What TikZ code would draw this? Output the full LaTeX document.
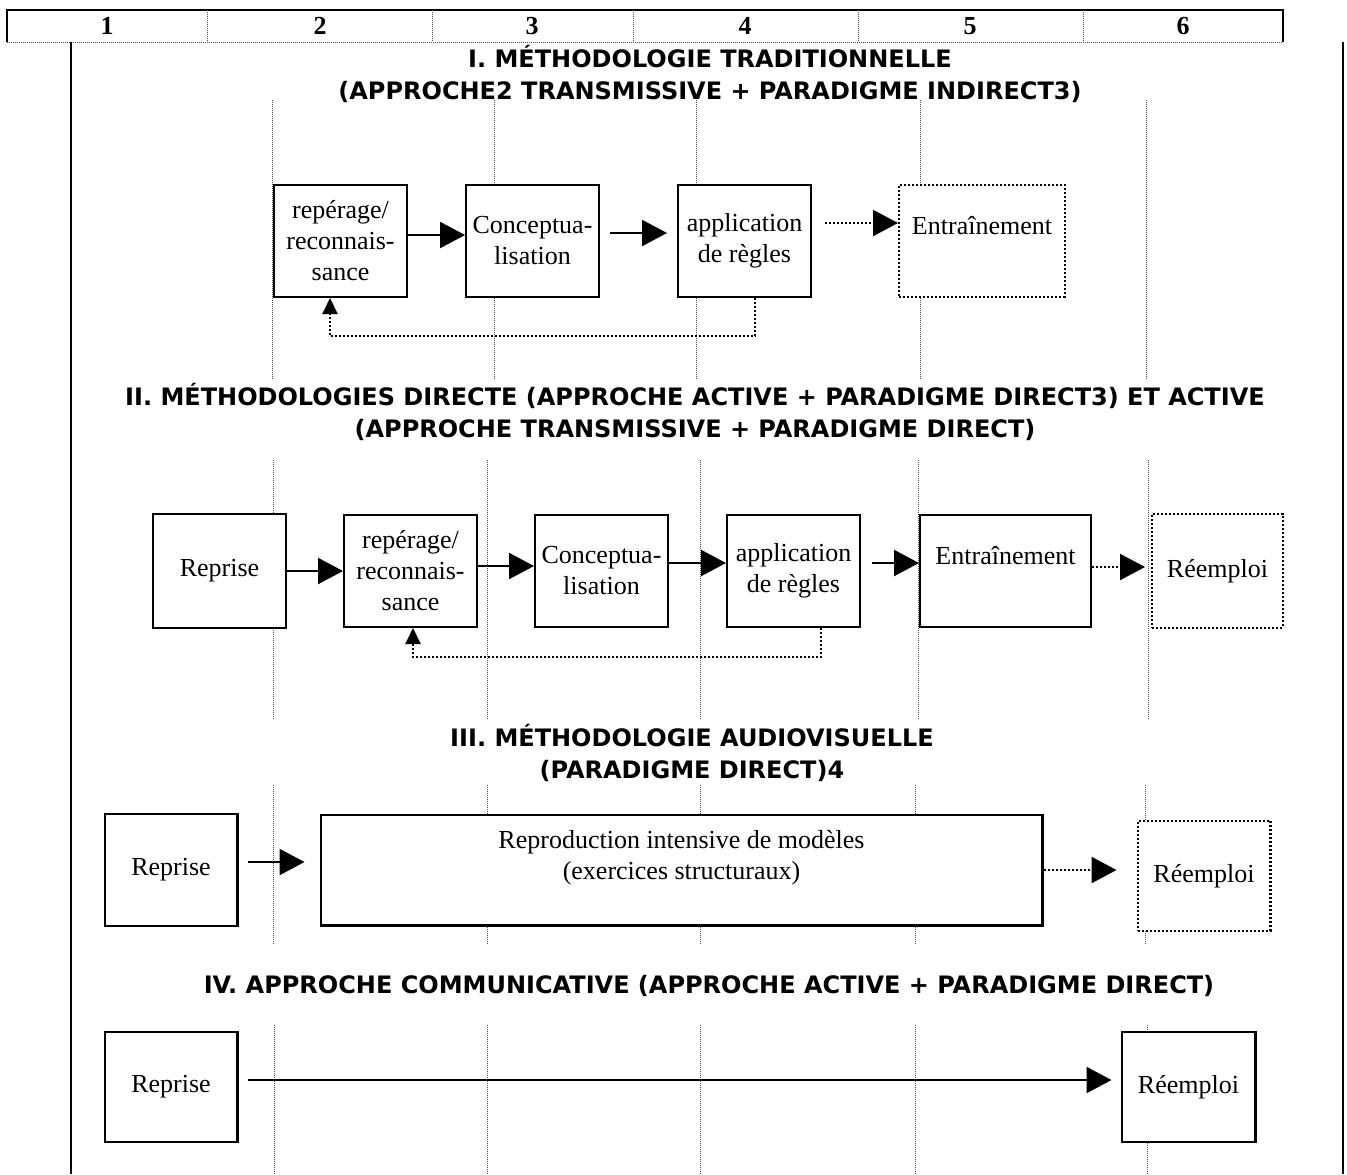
\documentclass[tikz,border=0pt]{standalone}
\usepackage{fontspec}
\setmainfont{Liberation Serif}
\newfontfamily\titrefont{DejaVu Sans}
\usetikzlibrary{arrows.meta,positioning}
\newcommand\etapefont{\fontsize{13}{15.5}\selectfont}
\tikzset{
  etape/.style={rectangle,draw=black,line width=1.2pt,fill=white,
    minimum width=66.3pt,minimum height=55.8pt,align=center,inner sep=1pt,font=\etapefont},
  pointille/.style={dash pattern=on 1pt off 1pt},
  fleche/.style={-{Triangle[length=12.5pt,width=13pt]},line width=1.1pt},
  retour/.style={-{Triangle[length=8pt,width=7.5pt]},line width=1.1pt,pointille},
  repere/.style={draw=black!70,line width=0.4pt,dash pattern=on 0.5pt off 0.5pt},
  titre/.style={font=\titrefont\bfseries\fontsize{12}{16}\selectfont,align=center},
  colonne/.style={font=\bfseries\fontsize{13}{15}\selectfont}
}
\begin{document}
\begin{tikzpicture}[x=0.5pt,y=-0.5pt]
\useasboundingbox (0,0) rectangle (1347,1174);
% en-tete des colonnes
\draw[line width=1.2pt] (7,42) -- (7,10) -- (1283,10) -- (1283,42);
\draw[repere] (7,42) -- (1283,42);
\foreach \x in {207,432,633,858,1083} \draw[repere] (\x,10) -- (\x,42);
\node[colonne] (col1) at (107,26) {1};
\node[colonne] (col2) at (320,26) {2};
\node[colonne] (col3) at (532,26) {3};
\node[colonne] (col4) at (745,26) {4};
\node[colonne] (col5) at (970,26) {5};
\node[colonne] (col6) at (1183,26) {6};
\draw[line width=1.1pt] (71,42) -- (71,1174);
\draw[line width=1.1pt] (1343,42) -- (1343,1174);

% I
\node[titre] (titreI) at (710,74) {I. MÉTHODOLOGIE TRADITIONNELLE\\(APPROCHE2 TRANSMISSIVE + PARADIGME INDIRECT3)};
\foreach \x in {272,494,696,920,1146} \draw[repere] (\x,100) -- (\x,380);
\node[etape] (rep1) at (340.5,241) {repérage/\\reconnais-\\sance};
\node[etape,right=28.5pt of rep1] (conc1) {Conceptua-\\lisation};
\node[etape,right=38.5pt of conc1] (app1) {application\\de règles};
\node[etape,pointille,minimum width=82.8pt,right=43pt of app1] (entr1) {Entraînement\\\mbox{}};
\draw[fleche] ([yshift=3pt]rep1.east) -- ([yshift=3pt]conc1.west);
\draw[fleche,shorten <=5pt,shorten >=5pt] ([yshift=4pt]conc1.east) -- ([yshift=4pt]app1.west);
\draw[fleche,pointille,shorten <=6.5pt] ([yshift=9pt]app1.east) -- ([yshift=9pt]entr1.west);
\draw[retour] ([xshift=5.25pt]app1.south) -- ++(0,38) -| ([xshift=-5.25pt]rep1.south);

% II
\node[titre] (titreII) at (695,412) {II. MÉTHODOLOGIES DIRECTE (APPROCHE ACTIVE + PARADIGME DIRECT3) ET ACTIVE\\(APPROCHE TRANSMISSIVE + PARADIGME DIRECT)};
\foreach \x in {273,487,700,918,1148} \draw[repere] (\x,460) -- (\x,720);
\node[etape,minimum height=56.8pt] (repr2) at (219.5,571) {Reprise};
\node[etape,right=28pt of repr2] (rep2) {repérage/\\reconnais-\\sance};
\node[etape,right=28pt of rep2] (conc2) {Conceptua-\\lisation};
\node[etape,right=28.5pt of conc2] (app2) {application\\de règles};
\node[etape,minimum width=85.3pt,right=29pt of app2] (entr2) {Entraînement\\\mbox{}};
\node[etape,pointille,minimum width=65.3pt,minimum height=56.8pt,right=29.5pt of entr2] (ree2) {Réemploi};
\draw[fleche] (repr2.east) -- (rep2.west);
\draw[fleche] ([yshift=2.5pt]rep2.east) -- ([yshift=2.5pt]conc2.west);
\draw[fleche] ([yshift=4pt]conc2.east) -- ([yshift=4pt]app2.west);
\draw[fleche,shorten <=5.5pt] ([yshift=4pt]app2.east) -- ([yshift=4pt]entr2.west);
\draw[fleche,pointille,shorten >=3pt] ([yshift=2pt]entr2.east) -- ([yshift=2pt]ree2.west);
\draw[retour] ([xshift=13.75pt]app2.south) -- ++(0,29) -| ([xshift=1.25pt]rep2.south);

% III
\node[titre] (titreIII) at (692,753) {III. MÉTHODOLOGIE AUDIOVISUELLE\\(PARADIGME DIRECT)4};
\foreach \x in {273,487,700,915,1145} \draw[repere] (\x,785) -- (\x,945);
\node[etape] (repr3) at (171,870) {Reprise};
\node[etape,minimum width=360.8pt,minimum height=55.3pt,right=40.5pt of repr3] (repro3) {Reproduction intensive de modèles\\(exercices structuraux)\\\mbox{}};
\node[etape,pointille,minimum height=54.8pt,right=46.5pt of repro3,yshift=-3pt] (ree3) {Réemploi};
\draw[fleche,shorten <=4.5pt,shorten >=7.5pt] ([yshift=4pt]repr3.east) -- ([yshift=4pt]repro3.west);
\draw[fleche,pointille,shorten >=10pt] (repro3.east) -- (repro3.east -| ree3.west);

% IV
\node[titre] (titreIV) at (709,986) {IV. APPROCHE COMMUNICATIVE (APPROCHE ACTIVE + PARADIGME DIRECT)};
\foreach \x in {274,487,700,915,1147} \draw[repere] (\x,1025) -- (\x,1174);
\node[etape,minimum height=54.8pt] (repr4) at (171,1087) {Reprise};
\node[etape,minimum width=66.8pt,minimum height=54.8pt,right=441pt of repr4] (ree4) {Réemploi};
\draw[fleche,shorten <=4.5pt,shorten >=4.5pt] ([yshift=3.5pt]repr4.east) -- ([yshift=3.5pt]ree4.west);
\end{tikzpicture}
\end{document}
